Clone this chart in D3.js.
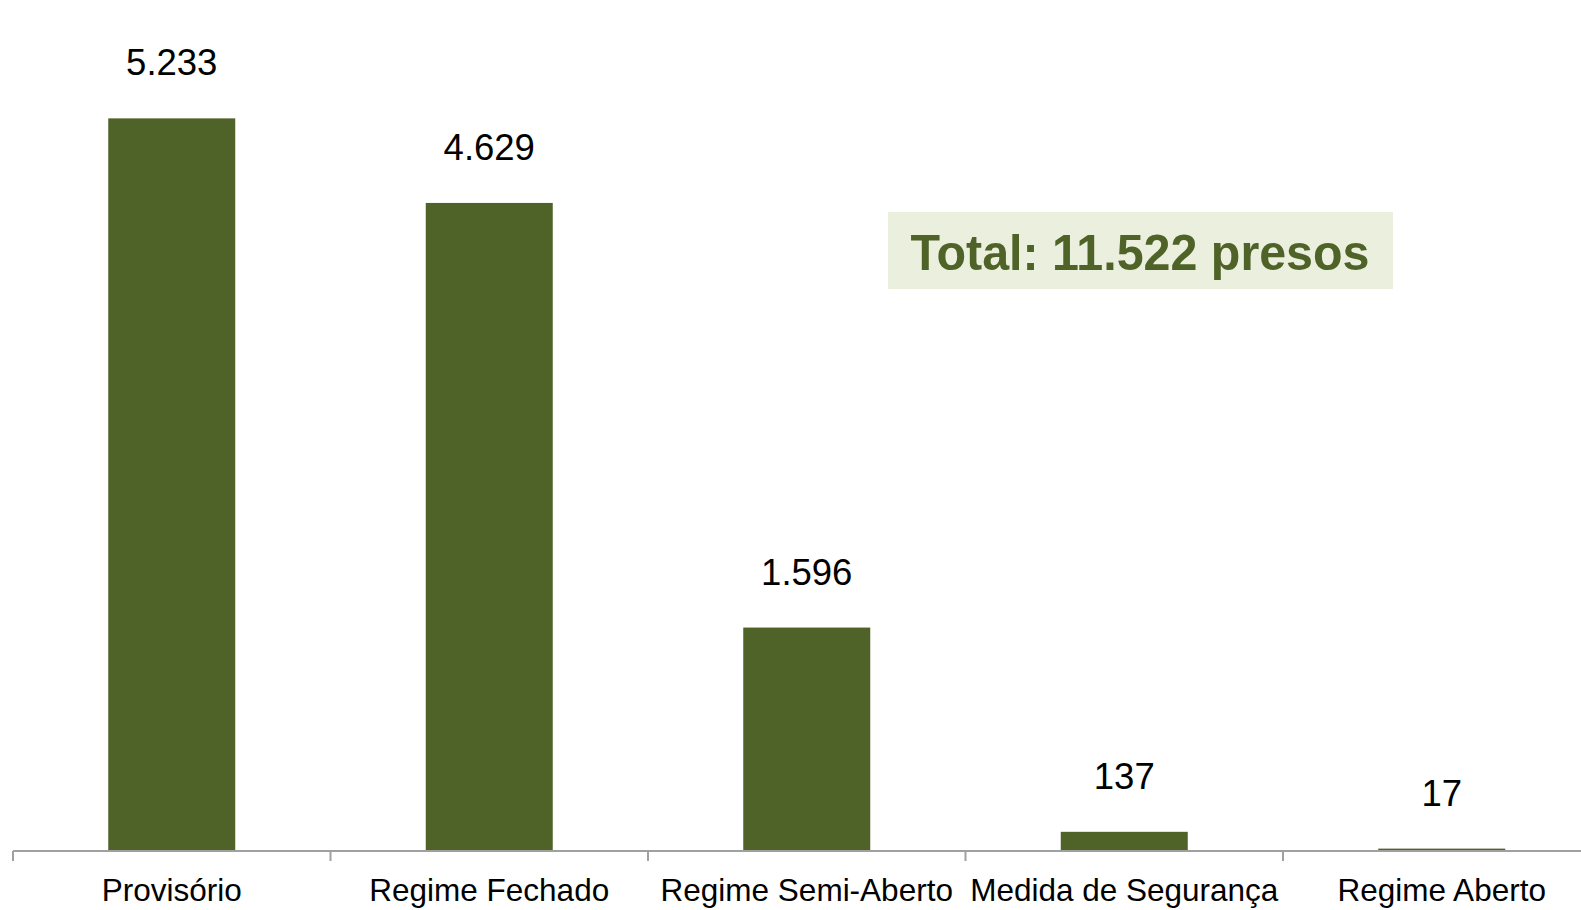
<!DOCTYPE html>
<html>
<head>
<meta charset="utf-8">
<script src="https://cdn.jsdelivr.net/npm/d3@7"></script>
<style>
  html, body { margin: 0; padding: 0; background: #ffffff; }
  svg { display: block; }
  text { font-family: "Liberation Sans", Arial, sans-serif; }
</style>
</head>
<body>
<svg id="chart" width="1581" height="910"></svg>
<script>
// ---- data ----
const categories = ["Provisório", "Regime Fechado", "Regime Semi-Aberto", "Medida de Segurança", "Regime Aberto"];
const values = [5233, 4629, 1596, 137, 17];
const valueLabels = ["5.233", "4.629", "1.596", "137", "17"];
const totalLabel = "Total: 11.522 presos";

// ---- layout ----
const W = 1581, H = 910;
const axisY = 851;
const svg = d3.select("#chart");

const xOuter = d3.scaleBand().domain(categories).range([13, 13 + 5 * 317.5]).padding(0);
const x = d3.scaleBand().domain(categories).range([13, 13 + 5 * 317.5]).paddingInner(0.6).paddingOuter(0.3);
const y = d3.scaleLinear().domain([0, 5650]).range([axisY, axisY - 791]);

// bars
svg.append("g").selectAll("rect").data(values).join("rect")
  .attr("x", (d, i) => x(categories[i]))
  .attr("width", x.bandwidth())
  .attr("y", d => y(d))
  .attr("height", d => axisY - y(d))
  .attr("fill", "#4F6228");

// value labels
svg.append("g").selectAll("text").data(values).join("text")
  .attr("x", (d, i) => x(categories[i]) + x.bandwidth() / 2)
  .attr("y", d => y(d) - 43)
  .attr("text-anchor", "middle")
  .attr("font-size", "36.5px")
  .attr("fill", "#000")
  .text((d, i) => valueLabels[i]);

// axis
const axis = svg.append("g");
axis.append("line")
  .attr("x1", xOuter.range()[0]).attr("x2", W)
  .attr("y1", axisY).attr("y2", axisY)
  .attr("stroke", "#A0A0A0").attr("stroke-width", 2);
axis.selectAll("line.tick").data(categories).join("line")
  .attr("class", "tick")
  .attr("x1", d => xOuter(d)).attr("x2", d => xOuter(d))
  .attr("y1", axisY).attr("y2", axisY + 10)
  .attr("stroke", "#A0A0A0").attr("stroke-width", 2);
axis.selectAll("text").data(categories).join("text")
  .attr("x", d => xOuter(d) + xOuter.bandwidth() / 2)
  .attr("y", 901)
  .attr("text-anchor", "middle")
  .attr("font-size", "31.5px")
  .attr("fill", "#000")
  .text(d => d);

// total box
const box = svg.append("g");
box.append("rect")
  .attr("x", 888).attr("y", 212)
  .attr("width", 505).attr("height", 77)
  .attr("fill", "#EBF0DE");
box.append("text")
  .attr("x", 1140).attr("y", 270)
  .attr("text-anchor", "middle")
  .attr("font-size", "50px")
  .attr("font-weight", "bold")
  .attr("fill", "#4F6228")
  .attr("textLength", 459)
  .attr("lengthAdjust", "spacingAndGlyphs")
  .text(totalLabel);
</script>
</body>
</html>
